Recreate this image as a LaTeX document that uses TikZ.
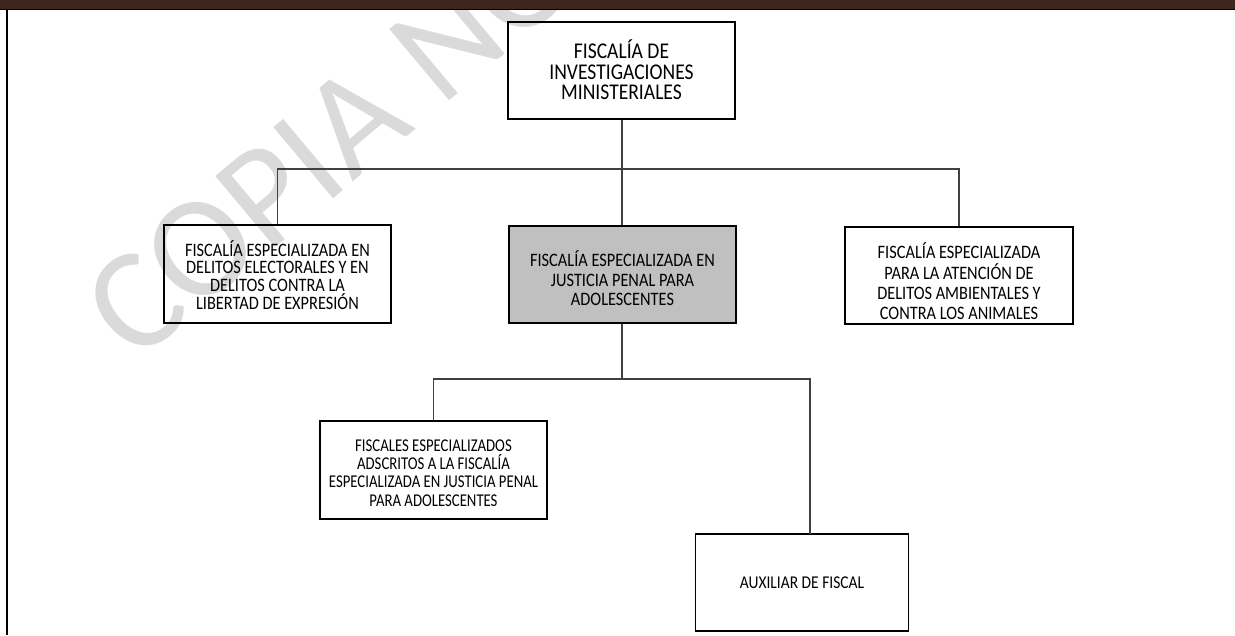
\documentclass[tikz,border=0pt]{standalone}
\usepackage{fontspec}
\setmainfont{Carlito}[FakeStretch=0.82]
\newfontfamily\widefont{Carlito}[FakeStretch=0.86]
\newfontfamily\topfont{Carlito}[FakeStretch=0.87]
\newfontfamily\wmfont{Carlito}
\definecolor{barbrown}{HTML}{3D261E}
\definecolor{wmgray}{HTML}{DADADA}
\definecolor{boxgray}{HTML}{C0C0C0}
\definecolor{linegray}{HTML}{404040}
\tikzset{
  orgbox/.style={draw=black, line width=1.1pt, inner sep=0pt},
  boxtext/.style={inner sep=0pt, align=center, font=\widefont\fontsize{19}{19}\selectfont},
  smalltext/.style={boxtext, font=\fontsize{18}{18.3}\selectfont},
  toptext/.style={boxtext, font=\topfont\fontsize{22.5}{20.5}\selectfont},
  conn/.style={draw=linegray, line width=1.4pt},
}
\begin{document}
\begin{tikzpicture}[x=1pt,y=-1pt]
\useasboundingbox (0,0) rectangle (1235,635);
% watermark
\begin{scope}
\clip (0,0) rectangle (1235,635);
\node[rotate=40, anchor=base west, inner sep=0pt, text=wmgray,
  font=\wmfont\fontsize{145}{145}\selectfont] (wm) at (135,365) {COPIA NO CONTROLADA};
\end{scope}
% header bar and border
\fill[barbrown] (0,0) rectangle (1235,8.5);
\fill[black] (0,8.5) rectangle (1235,10.2);
\fill[black] (6,9) rectangle (8.2,635);
% boxes
\node[orgbox, minimum width=227pt, minimum height=97pt,
  label={[toptext, yshift=0.5pt]center:{FISCALÍA DE\\INVESTIGACIONES\\MINISTERIALES}}] (top) at (621.5,70.5) {};
\node[orgbox, minimum width=227pt, minimum height=98pt,
  label={[boxtext, font=\widefont\fontsize{19}{17.8}\selectfont, yshift=-1pt]center:{FISCALÍA ESPECIALIZADA EN\\DELITOS ELECTORALES Y EN\\DELITOS CONTRA LA\\LIBERTAD DE EXPRESIÓN}}] (left) at (277.5,274) {};
\node[orgbox, fill=boxgray, minimum width=227pt, minimum height=97pt,
  label={[boxtext, font=\widefont\fontsize{19}{19.5}\selectfont, yshift=-4pt]center:{FISCALÍA ESPECIALIZADA EN\\JUSTICIA PENAL PARA\\ADOLESCENTES}}] (mid) at (622.5,274.5) {};
\node[orgbox, minimum width=228pt, minimum height=97pt,
  label={[boxtext, font=\widefont\fontsize{19}{20.4}\selectfont, yshift=-6pt]center:{FISCALÍA ESPECIALIZADA\\PARA LA ATENCIÓN DE\\DELITOS AMBIENTALES Y\\CONTRA LOS ANIMALES}}] (right) at (959,275.5) {};
\node[orgbox, minimum width=227pt, minimum height=98pt,
  label={[smalltext, yshift=-3pt]center:{FISCALES ESPECIALIZADOS\\ADSCRITOS A LA FISCALÍA\\ESPECIALIZADA EN JUSTICIA PENAL\\PARA ADOLESCENTES}}] (fisc) at (433.5,470) {};
\node[orgbox, minimum width=213pt, minimum height=97pt,
  label={[boxtext, font=\widefont\fontsize{18}{18}\selectfont]center:{AUXILIAR DE FISCAL}}] (aux) at (802,582.5) {};
% connectors
\coordinate (bus1) at (622,169);
\coordinate (bus2) at (622,379);
\coordinate (auxin) at (810,534);
\draw[conn] (top.south -| bus1) -- (mid.north -| bus1);
\draw[conn] (left.north) |- (bus1) -| (right.north);
\draw[conn] (mid.south -| bus2) -- (bus2);
\draw[conn] (fisc.north) |- (bus2) -| (auxin);
\end{tikzpicture}
\end{document}
